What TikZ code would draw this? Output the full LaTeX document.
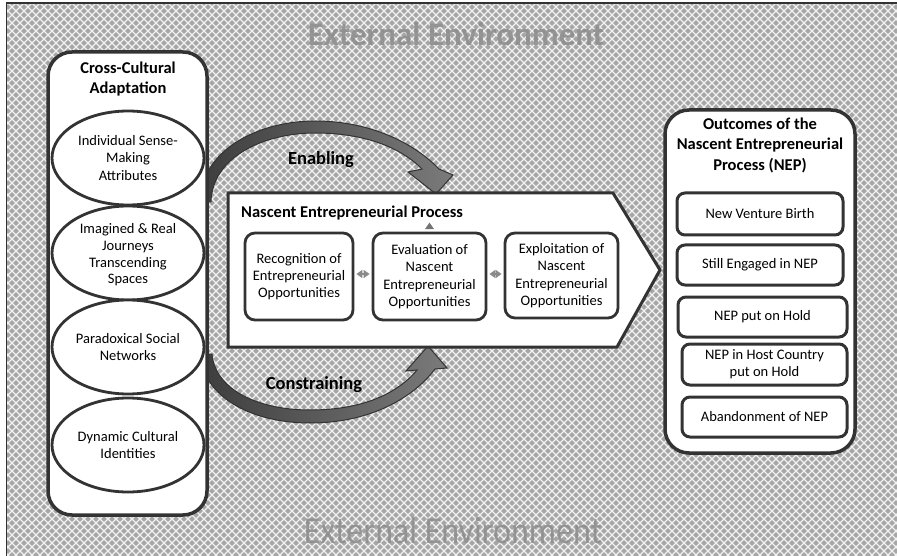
\documentclass[tikz,border=0pt]{standalone}
\usepackage{fontspec}
\setmainfont{Carlito}
\usetikzlibrary{shapes.geometric,arrows.meta,calc}

\definecolor{ink}{HTML}{333333}
\definecolor{bggray}{HTML}{A6A6A6}
\definecolor{envtext}{HTML}{8E8E8E}
\definecolor{hatch}{HTML}{F2F2F2}
\definecolor{linkgray}{HTML}{8A8A8A}

\newcommand\bodyfont{\fontsize{14.5}{17.3}\selectfont}
\newcommand\headfont{\fontsize{16.5}{20.5}\selectfont\bfseries}
\newcommand\forcefont{\fontsize{18.5}{22}\selectfont\bfseries}

\tikzset{
  panel/.style={draw=ink, line width=3.5pt, fill=white, rounded corners=24pt},
  factor/.style={ellipse, draw=ink, line width=2.8pt, fill=white,
    minimum width=152pt, minimum height=94pt, inner sep=0pt},
  bodytext/.style={align=center, inner sep=0pt, font=\bodyfont},
  stagebox/.style={draw=ink, line width=2.8pt, fill=white, rounded corners=10pt,
    align=center, inner sep=0pt, font=\bodyfont},
  outcome/.style={draw=ink, line width=3pt, fill=white, rounded corners=8pt,
    align=center, inner sep=0pt, font=\bodyfont},
  heading/.style={font=\headfont, align=center, inner sep=0pt},
  forcelabel/.style={font=\forcefont, inner sep=0pt},
  forcearrow/.style={draw=black!80, line width=1pt, left color=black!76, right color=black!52},
  twoway/.style={linkgray, line width=2pt,
    {Triangle[length=6pt,width=8pt]}-{Triangle[length=6pt,width=8pt]},
    shorten <=2pt, shorten >=2pt},
  envlabel/.style={text=envtext, inner sep=0pt, text opacity=0.9},
}

\begin{document}
\begin{tikzpicture}[x=1pt, y=-1pt]
% canvas and hatched environment
\fill[white] (0,0) rectangle (897,556);
\useasboundingbox (0,0) rectangle (897,556);
\fill[bggray] (7,3) rectangle (897,556);
\begin{scope}
  \clip (7,3) rectangle (897,556);
  \foreach \i in {-71,...,183} {
    \draw[hatch, line width=1.1pt] (\i*8,3) -- ++(556,556);
    \draw[hatch, line width=1.1pt] (\i*8,3) -- ++(-556,556);
  }
\end{scope}
\node[envlabel, font=\fontsize{33}{36}\selectfont\bfseries] (envtop) at (456,34) {External Environment};
\node[envlabel, font=\fontsize{34}{36}\selectfont, yscale=1.12] (envbot) at (453,530) {External Environment};
\draw[ink, line width=1.4pt] (6.5,556) -- (6.5,3) -- (897,3);

% influence arrows from the adaptation panel to the process
\path[forcearrow] (200,202) .. controls (201,150) and (258,121) .. (315,121)
  .. controls (370,121) and (414,143) .. (439,169)
  -- (453,175) -- (436,194) -- (408,172) -- (422,169)
  .. controls (400,147) and (364,133) .. (315,133)
  .. controls (264,133) and (212,157) .. (211,202) -- cycle;
\path[forcearrow] (200,354) .. controls (203,396) and (250,423) .. (310,423)
  .. controls (370,423) and (413,398) .. (435,369)
  -- (447,368) -- (428,346) -- (406,371) -- (417,370)
  .. controls (397,394) and (362,410) .. (310,410)
  .. controls (257,410) and (215,389) .. (212,354) -- cycle;
\node[forcelabel] (enabling) at (321,160) {Enabling};
\node[forcelabel] (constraining) at (314,385) {Constraining};

% cross-cultural adaptation panel
\draw[panel] (48,52) rectangle (207,515);
\node[heading] (cca) at (128,79) {Cross-Cultural\\Adaptation};
\node[factor] (e1) at (128,158) {};
\node[factor] (e2) at (128,253) {};
\node[factor] (e3) at (128,347) {};
\node[factor] (e4) at (128,445) {};
\node[bodytext] at (e1) {Individual Sense-\\Making\\Attributes};
\node[bodytext, font=\fontsize{14.5}{16.7}\selectfont] at ($(e2)+(0,2)$) {Imagined \& Real\\Journeys\\Transcending\\Spaces};
\node[bodytext] at (e3) {Paradoxical Social\\Networks};
\node[bodytext] at (e4) {Dynamic Cultural\\Identities};

% nascent entrepreneurial process
\draw[ink, line width=3pt, fill=white] (228,193) -- (613,193) -- (660,270)
  -- (617,347) -- (228,347) -- cycle;
\node[heading, anchor=west] (nep) at (241,213) {Nascent Entrepreneurial Process};
\node[stagebox, minimum width=108pt, minimum height=87pt] (b1) at (299,276.5)
  {Recognition of\\Entrepreneurial\\Opportunities};
\node[stagebox, minimum width=113pt, minimum height=87pt] (b2) at (429.5,276.5)
  {Evaluation of\\Nascent\\Entrepreneurial\\Opportunities};
\node[stagebox, minimum width=113pt, minimum height=85pt] (b3) at (561.5,275.5)
  {Exploitation of\\Nascent\\Entrepreneurial\\Opportunities};
\draw[twoway] (b1.east |- 0,274) -- (b2.west |- 0,274);
\draw[twoway] (b2.east |- 0,274) -- (b3.west |- 0,274);
\fill[black!55] ($(b2.north)+(-4.5,-2.5)$) -- ($(b2.north)+(4.5,-2.5)$) -- ($(b2.north)+(0,-9)$) -- cycle;

% outcomes panel
\draw[panel] (665,110) rectangle (855,453);
\node[heading] (outt) at (760,145) {Outcomes of the\\Nascent Entrepreneurial\\Process (NEP)};
\node[outcome, minimum width=166pt, minimum height=42pt] (o1) at (760,214) {New Venture Birth};
\node[outcome, minimum width=166pt, minimum height=40pt] (o2) at (760,265) {Still Engaged in NEP};
\node[outcome, minimum width=169pt, minimum height=40pt] (o3) at (762.5,317) {NEP put on Hold};
\node[outcome, minimum width=165pt, minimum height=41pt] (o4) at (764.5,364.5) {NEP in Host Country\\put on Hold};
\node[outcome, minimum width=165pt, minimum height=40pt] (o5) at (764.5,417) {Abandonment of NEP};
\end{tikzpicture}
\end{document}
